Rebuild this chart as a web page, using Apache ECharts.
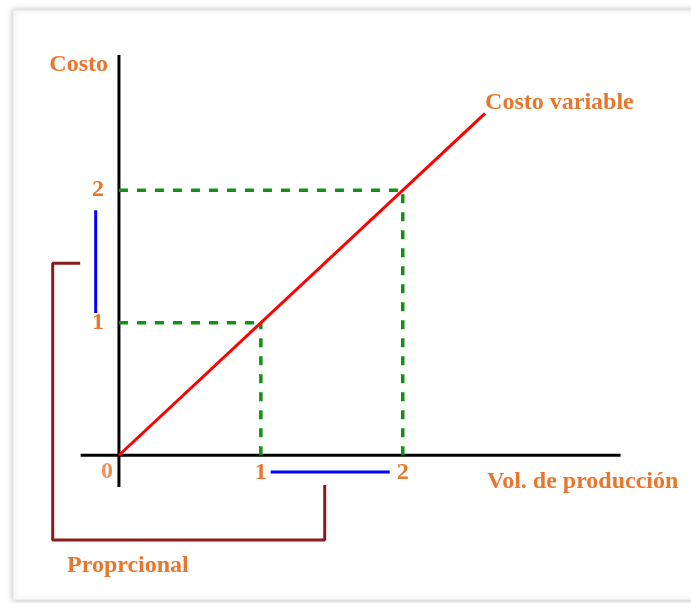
<!DOCTYPE html>
<html>
<head>
<meta charset="utf-8">
<title>Costo variable</title>
<script src="https://cdn.jsdelivr.net/npm/echarts@6/dist/echarts.min.js"></script>
<style>
  html, body { margin: 0; padding: 0; background: #fff; }
  #chart { width: 691px; height: 603px; }
</style>
</head>
<body>
<div id="chart"></div>
<script>
  // datos del grafico
  const xTicks = [1, 2]
  const yTicks = [1, 2]
  const ejeX = [[-0.27, 0], [3.535, 0]]
  const ejeY = [[0, -0.24], [0, 3.02]]
  const costoVariable = [[0, 0], [2.58, 2.58]]
  const guia1H = [[0, 1], [1, 1]]
  const guia1V = [[1, 0], [1, 1]]
  const guia2H = [[0, 2], [2, 2]]
  const guia2V = [[2, 0], [2, 2]]
  const azulVertical = [[-0.164, 1.85], [-0.164, 1.073]]
  const azulHorizontal = [[1.069, -0.127], [1.908, -0.127]]
  const corchete = [[-0.273, 1.45], [-0.467, 1.45], [-0.467, -0.64], [1.45, -0.64], [1.45, -0.225]]
  const origen = [[0, 0]]

  const naranja = '#e8762c'
  const verde = '#168f16'
  const fuente = '"Liberation Serif", "Times New Roman", serif'
  const fontSize = 24

  const textoNaranja = {
    color: naranja,
    fontFamily: fuente,
    fontWeight: 'bold',
    fontSize: fontSize
  }

  function texto(text, x, y, align) {
    return {
      type: 'text',
      x: x,
      y: y,
      z: 10,
      style: {
        text: text,
        fill: naranja,
        font: 'bold ' + fontSize + 'px ' + fuente,
        textAlign: align,
        textVerticalAlign: 'middle'
      }
    }
  }

  function guia(data) {
    return {
      type: 'line',
      data: data,
      symbol: 'none',
      silent: true,
      z: 3,
      lineStyle: { color: verde, width: 3.5, type: [9, 9] }
    }
  }

  function trazo(data, color, width) {
    return {
      type: 'line',
      data: data,
      symbol: 'none',
      silent: true,
      lineStyle: { color: color, width: width }
    }
  }

  const chart = echarts.init(document.getElementById('chart'))

  chart.setOption({
    animation: false,
    graphic: [
      {
        type: 'rect',
        z: -10,
        shape: { x: 13, y: 10, width: 700, height: 590 },
        style: {
          fill: '#fff',
          stroke: '#e4e4e4',
          lineWidth: 1,
          shadowBlur: 6,
          shadowColor: 'rgba(0,0,0,0.25)'
        }
      },
      texto('Costo', 108, 65, 'right'),
      texto('Vol. de producción', 487, 482, 'left'),
      texto('Proprcional', 67, 566, 'left')
    ],
    grid: {
      left: 48,
      right: 61.2,
      top: 44.5,
      bottom: 55
    },
    xAxis: {
      type: 'value',
      min: -0.5,
      max: 3.6,
      axisLine: { show: false },
      axisTick: { show: false },
      splitLine: { show: false },
      axisLabel: Object.assign({}, textoNaranja, {
        customValues: xTicks,
        verticalAlign: 'top',
        margin: -87
      })
    },
    yAxis: {
      type: 'value',
      min: -0.7,
      max: 3.1,
      axisLine: { show: false },
      axisTick: { show: false },
      splitLine: { show: false },
      axisLabel: Object.assign({}, textoNaranja, {
        customValues: yTicks,
        margin: -56
      })
    },
    series: [
      trazo(ejeX, '#000', 3),
      trazo(ejeY, '#000', 3),
      guia(guia1H),
      guia(guia1V),
      guia(guia2H),
      guia(guia2V),
      {
        type: 'line',
        data: costoVariable,
        symbol: 'none',
        silent: true,
        z: 4,
        lineStyle: { color: '#ff0000', width: 3 },
        endLabel: Object.assign({}, textoNaranja, {
          show: true,
          formatter: 'Costo variable',
          align: 'left',
          distance: 0,
          offset: [0, -11]
        })
      },
      trazo(azulVertical, '#0000ff', 3),
      trazo(azulHorizontal, '#0000ff', 3),
      trazo(corchete, '#8b1a1a', 3),
      {
        type: 'scatter',
        data: origen,
        symbolSize: 1,
        itemStyle: { color: 'rgba(0,0,0,0)' },
        silent: true,
        label: Object.assign({}, textoNaranja, {
          show: true,
          formatter: '0',
          position: 'inside',
          offset: [-12, 17]
        })
      }
    ]
  })
</script>
</body>
</html>
